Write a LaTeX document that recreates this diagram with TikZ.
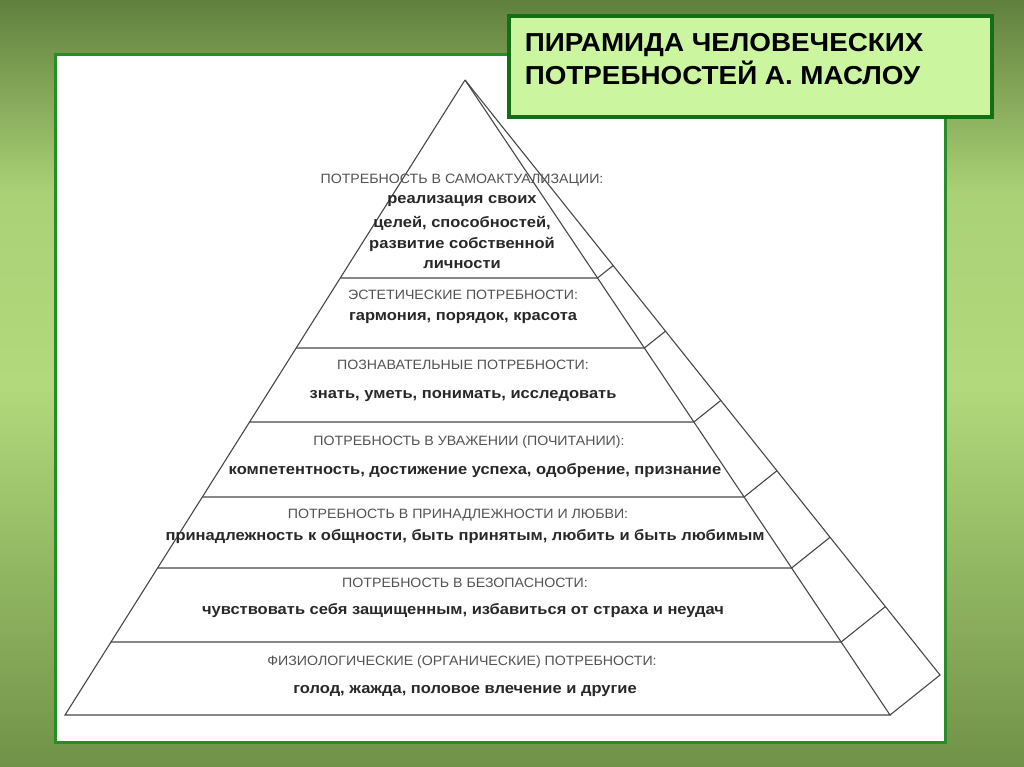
\documentclass[tikz,border=0pt]{standalone}
\usepackage{fontspec}
\setmainfont{Liberation Sans}
\usetikzlibrary{calc}
\definecolor{bgtop}{RGB}{96,128,62}
\definecolor{bgmid}{RGB}{178,218,124}
\definecolor{bgbot}{RGB}{112,146,72}
\definecolor{frame}{RGB}{40,140,40}
\definecolor{titlefill}{RGB}{204,245,160}
\definecolor{titleborder}{RGB}{20,110,20}
\definecolor{ink}{RGB}{40,40,40}
\begin{document}
\begin{tikzpicture}[x=1pt,y=-1pt,
  head/.style={font=\fontsize{13.5}{14}\selectfont, text=ink!80, xscale=1.05},
  body/.style={font=\bfseries\fontsize{15}{16}\selectfont, text=ink, xscale=1.1},
  edge/.style={draw=ink!85, line width=1.1pt}]
\useasboundingbox (0,0) rectangle (1024,767);
\shade[top color=bgtop, bottom color=bgmid, middle color=bgmid!90!bgtop] (0,0) rectangle (1024,384);
\shade[top color=bgmid, bottom color=bgbot] (0,383) rectangle (1024,767);
\draw[fill=white, draw=frame, line width=3pt] (55,55) rectangle (945,742);
% pyramid
\coordinate (A) at (465,80);
\coordinate (L) at (65,715);
\coordinate (R) at (890,715);
\coordinate (B) at (940,675);
\draw[edge] (A) -- (L) -- (R) -- (A);
\draw[edge] (A) -- (B) -- (R);
\foreach \y in {278,348,422,497,568,642}{
  \pgfmathsetmacro{\f}{(\y-80)/635}
  \draw[edge] ($(A)!\f!(L)$) -- ($(A)!\f!(R)$) -- ($(A)!\f!(B)$);
}
% texts
\node[head] (h1) at (462,180) {ПОТРЕБНОСТЬ В САМОАКТУАЛИЗАЦИИ:};
\node[body] (b1a) at (462,201) {реализация своих};
\node[body] (b1b) at (462,223) {целей, способностей,};
\node[body] (b1c) at (462,244) {развитие собственной};
\node[body] (b1d) at (462,265) {личности};
\node[head] (h2) at (463,295) {ЭСТЕТИЧЕСКИЕ ПОТРЕБНОСТИ:};
\node[body] (b2) at (463,318) {гармония, порядок, красота};
\node[head] (h3) at (463,365) {ПОЗНАВАТЕЛЬНЫЕ ПОТРЕБНОСТИ:};
\node[body] (b3) at (463,396) {знать, уметь, понимать, исследовать};
\node[head] (h4) at (469,442) {ПОТРЕБНОСТЬ В УВАЖЕНИИ (ПОЧИТАНИИ):};
\node[body] (b4) at (475,471) {компетентность, достижение успеха, одобрение, признание};
\node[head] (h5) at (458,515) {ПОТРЕБНОСТЬ В ПРИНАДЛЕЖНОСТИ И ЛЮБВИ:};
\node[body] (b5) at (465,537) {принадлежность к общности, быть принятым, любить и быть любимым};
\node[head] (h6) at (465,583) {ПОТРЕБНОСТЬ В БЕЗОПАСНОСТИ:};
\node[body] (b6) at (463,611) {чувствовать себя защищенным, избавиться от страха и неудач};
\node[head] (h7) at (462,662) {ФИЗИОЛОГИЧЕСКИЕ (ОРГАНИЧЕСКИЕ) ПОТРЕБНОСТИ:};
\node[body] (b7) at (465,691) {голод, жажда, половое влечение и другие};
% title
\draw[fill=titlefill, draw=titleborder, line width=4pt] (509,16) rectangle (992,117);
\node[anchor=north west, align=left, font=\bfseries\fontsize{26}{33}\selectfont, xscale=1.07] (title) at (521,30) {ПИРАМИДА ЧЕЛОВЕЧЕСКИХ\\ПОТРЕБНОСТЕЙ А. МАСЛОУ};
\end{tikzpicture}
\end{document}
